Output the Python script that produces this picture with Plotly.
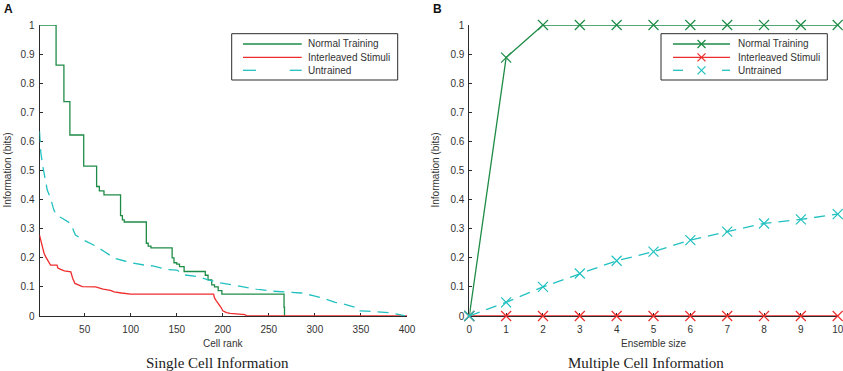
import plotly.graph_objects as go

W, H = 843, 371

# ---------------- Panel A data (single cell information) ----------------
normal_rank = [1, 19, 27.5, 34, 49, 63, 66, 71, 89, 91, 93, 117, 119, 122, 145, 147, 150, 153, 158,
               181, 184, 188, 191, 195, 199, 266.5, 267]
normal_info = [1.0, 0.862, 0.737, 0.622, 0.515, 0.445, 0.43, 0.416, 0.345, 0.33, 0.323, 0.25, 0.24, 0.234,
               0.2, 0.183, 0.178, 0.17, 0.153, 0.14, 0.124, 0.107, 0.1, 0.087, 0.075, 0.03, 0.0]

inter_rank = [1, 2, 3, 4.7, 6, 7.6, 10, 13, 20, 21, 24, 28, 35, 37, 39.5, 44, 47.5, 62, 65, 70, 78, 82,
              90, 95, 100, 190, 191, 193, 196, 198, 200, 204, 208, 215, 224, 226, 400]
inter_info = [0.278, 0.265, 0.25, 0.233, 0.215, 0.204, 0.19, 0.175, 0.175, 0.165, 0.16, 0.155, 0.152, 0.13,
              0.112, 0.106, 0.101, 0.1, 0.096, 0.092, 0.088, 0.083, 0.079, 0.076, 0.075, 0.075, 0.062,
              0.052, 0.04, 0.03, 0.018, 0.012, 0.009, 0.007, 0.005, 0.0, 0.0]

untr_rank = [1, 1.5, 2.5, 4.7, 6.8, 9.4, 13, 16.6, 20, 25.7, 34.8, 40, 49, 61, 71.7, 82.6, 93.5, 100.7,
             115, 124, 139, 150, 158.7, 173, 184, 196.7, 211, 222, 236.6, 255, 273, 285.5, 298, 309,
             322, 332.6, 345, 347, 356, 369, 381.5, 392, 398]
untr_info = [0.635, 0.6, 0.56, 0.513, 0.474, 0.433, 0.405, 0.364, 0.345, 0.336, 0.318, 0.278, 0.261, 0.242,
             0.221, 0.198, 0.189, 0.183, 0.175, 0.172, 0.16, 0.158, 0.141, 0.135, 0.124, 0.114, 0.107,
             0.101, 0.092, 0.085, 0.08, 0.079, 0.07, 0.061, 0.047, 0.04, 0.029, 0.018, 0.017, 0.015,
             0.011, 0.005, 0.0]

# ---------------- Panel B data (multiple cell information) ----------------
ensemble = [0, 1, 2, 3, 4, 5, 6, 7, 8, 9, 10]
normal_multi = [0, 0.888, 1, 1, 1, 1, 1, 1, 1, 1, 1]
inter_multi = [0, 0, 0, 0, 0, 0, 0, 0, 0, 0, 0]
untr_multi = [0, 0.047, 0.1, 0.146, 0.19, 0.221, 0.261, 0.29, 0.318, 0.332, 0.35]

series_names = ["Normal Training", "Interleaved Stimuli", "Untrained"]
xticks_a = [50, 100, 150, 200, 250, 300, 350, 400]
yticks = [0, 0.1, 0.2, 0.3, 0.4, 0.5, 0.6, 0.7, 0.8, 0.9, 1]
ytick_text = ["0", "0.1", "0.2", "0.3", "0.4", "0.5", "0.6", "0.7", "0.8", "0.9", "1"]

GREEN = "#1e8c46"
RED = "#ee2c2c"
CYAN = "#22c0c0"
AX = "#2a2a2a"
DASH = "11px,7px"
FONT = "Liberation Sans, Arial, sans-serif"
SERIF = "Liberation Serif, Times New Roman, serif"


def px(x):
    return x / W


def py(y):
    return 1 - y / H


fig = go.Figure()

# Panel A
fig.add_trace(go.Scatter(x=normal_rank, y=normal_info, mode="lines", line=dict(color=GREEN, width=1.3, shape="hv"),
                         name=series_names[0], xaxis="x", yaxis="y", cliponaxis=False))
fig.add_trace(go.Scatter(x=inter_rank, y=inter_info, mode="lines", line=dict(color=RED, width=1.3),
                         name=series_names[1], xaxis="x", yaxis="y", cliponaxis=False))
fig.add_trace(go.Scatter(x=untr_rank, y=untr_info, mode="lines", line=dict(color=CYAN, width=1.3, dash=DASH),
                         name=series_names[2], xaxis="x", yaxis="y", cliponaxis=False))

# Panel B
for yy, c, dash, nm in [(normal_multi, GREEN, "solid", series_names[0]),
                        (inter_multi, RED, "solid", series_names[1]),
                        (untr_multi, CYAN, DASH, series_names[2])]:
    fig.add_trace(go.Scatter(x=ensemble, y=yy, mode="lines+markers", line=dict(color=c, width=1.3, dash=dash),
                             marker=dict(color=c, symbol="x-thin-open", size=10, line=dict(color=c, width=1.2)),
                             name=nm, xaxis="x2", yaxis="y2", cliponaxis=False))

ydom = [py(316), py(25)]
axis_common = dict(showline=True, linecolor=AX, linewidth=1, ticks="inside", ticklen=3, tickcolor=AX,
                   tickwidth=1, showgrid=False, zeroline=False, layer="below traces", automargin=False,
                   ticklabeloverflow="allow", tickfont=dict(family=FONT, size=10, color="#333"))
xstand = dict(ticklabelstandoff=4)
ystand = dict(ticklabelstandoff=2)

fig.update_layout(
    template="none",
    width=W, height=H, margin=dict(l=0, r=0, t=0, b=0, pad=0, autoexpand=False),
    paper_bgcolor="white", plot_bgcolor="white", showlegend=False,
    xaxis=dict(domain=[px(39.5), px(407)], range=[1, 400], tickvals=xticks_a, anchor="y", **axis_common, **xstand),
    yaxis=dict(domain=ydom, range=[0, 1], tickvals=yticks, ticktext=ytick_text, anchor="x", **axis_common, **ystand),
    xaxis2=dict(domain=[px(469.3), px(837.7)], range=[0, 10], tickvals=ensemble, anchor="y2", **axis_common, **xstand),
    yaxis2=dict(domain=ydom, range=[0, 1], tickvals=yticks, ticktext=ytick_text, anchor="x2", **axis_common, **ystand),
)

ann = []
shapes = []


def text(x, y, s, size=10, family=FONT, xanchor="center", textangle=0, color="#333", bold=False):
    ann.append(dict(x=px(x), y=py(y), xref="paper", yref="paper", text=("<b>%s</b>" % s) if bold else s,
                    showarrow=False, xanchor=xanchor, yanchor="middle", textangle=textangle,
                    font=dict(family=family, size=size, color=color)))


text(8, 9, "A", size=12, color="#111", bold=True)
text(437.5, 9, "B", size=12, color="#111", bold=True)
text(223.3, 343.3, "Cell rank")
text(653.3, 343.3, "Ensemble size")
text(7, 170.5, "Information (bits)", textangle=-90)
text(435, 170.5, "Information (bits)", textangle=-90)
text(217.8, 363.3, "Single Cell Information", size=15, family=SERIF, color="#222")
text(646, 363.3, "Multiple Cell Information", size=15, family=SERIF, color="#222")


def legend(x0, x1, ls0, ls1, tx, with_marker):
    y0, y1 = 33.7, 80
    shapes.append(dict(type="rect", xref="paper", yref="paper", x0=px(x0), x1=px(x1), y0=py(y1), y1=py(y0),
                       line=dict(color=AX, width=1), fillcolor="white", layer="above"))
    rows = [44, 57.3, 70.3]
    cols = [GREEN, RED, CYAN]
    mid = (ls0 + ls1) / 2
    for i, (yy, c) in enumerate(zip(rows, cols)):
        if i < 2:
            shapes.append(dict(type="line", xref="paper", yref="paper", x0=px(ls0), x1=px(ls1), y0=py(yy), y1=py(yy),
                               line=dict(color=c, width=1.3), layer="above"))
        else:
            if with_marker:
                segs = [(ls0, ls0 + 10), (ls1 - 8, ls1)]
            else:
                segs = [(ls0, ls0 + 13), (ls1 - 12, ls1)]
            for a, b in segs:
                shapes.append(dict(type="line", xref="paper", yref="paper", x0=px(a), x1=px(b), y0=py(yy), y1=py(yy),
                                   line=dict(color=c, width=1.3), layer="above"))
        if with_marker:
            r = 4
            for dy in (r, -r):
                shapes.append(dict(type="line", xref="paper", yref="paper", x0=px(mid - r), x1=px(mid + r),
                                   y0=py(yy - dy), y1=py(yy + dy), line=dict(color=c, width=1.2), layer="above"))
        text(tx, yy, series_names[i], xanchor="left")


legend(231.7, 397.7, 243, 301.7, 305.5, False)
legend(661, 827.3, 673, 730, 735.5, True)

fig.update_layout(annotations=ann, shapes=shapes)
fig.write_html("out.html", config={"displayModeBar": False},
               post_script="document.body.style.margin='0';document.body.style.overflow='hidden';")
